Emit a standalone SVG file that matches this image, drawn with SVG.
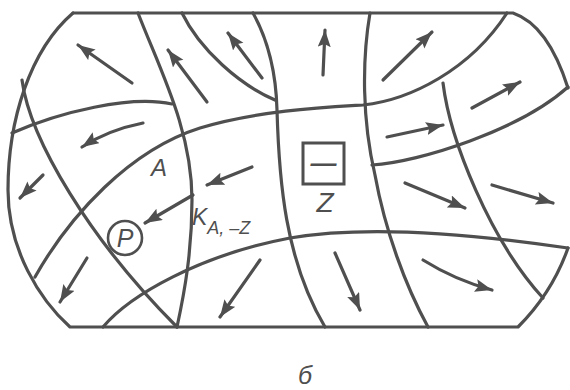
<svg xmlns="http://www.w3.org/2000/svg" width="570" height="390" viewBox="0 0 570 390">
<style>
.ln{fill:none;stroke:#4f4f4f;stroke-width:3.2;stroke-linecap:round;stroke-linejoin:round}
.ar{fill:none;stroke:#4f4f4f;stroke-width:3.2;stroke-linecap:round;marker-end:url(#ah)}
.t{fill:#4f4f4f;font-family:"Liberation Sans","DejaVu Sans",sans-serif;font-style:italic}
</style>
<defs>
<marker id="ah" markerUnits="userSpaceOnUse" markerWidth="18" markerHeight="14" refX="17" refY="6.5" orient="auto">
<path d="M0,0 L17,6.5 L0,13 L3,6.5 z" fill="#4f4f4f"/>
</marker>
</defs>
<rect width="570" height="390" fill="#fff"/>
<g id="outline">
<path class="ln" d="M73,13 L513,13 Q548,25 568,88"/>
<path class="ln" d="M73,13 C30,50 8,120 8,190 C8,250 40,300 70,327 L518,327 C535,310 555,285 568,248"/>
</g>
<g id="grid">
<path class="ln" d="M12,133 C60,112 130,95 172,104"/>
<path class="ln" d="M35,277 C70,215 130,150 200,128 C260,110 330,107 363,105 C410,100 470,70 507,13"/>
<path class="ln" d="M103,327 C130,295 200,255 290,238 C360,226 460,232 568,248"/>
<path class="ln" d="M372,165 C420,162 520,130 568,87"/>
<path class="ln" d="M22,80 C30,140 90,240 177,327"/>
<path class="ln" d="M138,13 C160,70 192,130 192,200 C192,250 185,290 177,327"/>
<path class="ln" d="M182,13 C200,50 240,85 275,100"/>
<path class="ln" d="M253,13 C268,40 276,70 277,110 C279,180 285,260 325,327"/>
<path class="ln" d="M370,13 C362,60 362,120 375,175 C385,230 405,285 428,327"/>
<path class="ln" d="M443,83 C450,140 490,240 543,298"/>
</g>
<g id="connectors">
<path class="ar" d="M132,83 L78,45"/>
<path class="ar" d="M207,102 L168,50"/>
<path class="ar" d="M262,78 L228,33"/>
<path class="ar" d="M143,123 Q108,130 82,147"/>
<path class="ar" d="M43,175 L20,198"/>
<path class="ar" d="M252,167 L207,185"/>
<path class="ar" d="M323,75 L325,30"/>
<path class="ar" d="M383,80 L432,32"/>
<path class="ar" d="M387,137 L443,125"/>
<path class="ar" d="M472,108 L520,82"/>
<path class="ar" d="M405,183 L465,208"/>
<path class="ar" d="M492,185 L553,203"/>
<path class="ar" d="M335,253 L360,310"/>
<path class="ar" d="M423,260 Q455,280 492,290"/>
<path class="ar" d="M193,195 L145,223"/>
<path class="ar" d="M87,258 L60,302"/>
<path class="ar" d="M260,260 L220,317"/>
</g>
<g id="label-A"><text class="t" x="151" y="176" font-size="24">A</text></g>
<g id="node-P">
<circle cx="125" cy="238" r="17" fill="none" stroke="#4f4f4f" stroke-width="2.6"/>
<text class="t" x="125" y="247" font-size="25" text-anchor="middle">P</text>
</g>
<g id="label-K">
<text class="t" x="192" y="225" font-size="23">K<tspan font-size="18" dy="9">A, –Z</tspan></text>
</g>
<g id="node-Z">
<rect x="303" y="143" width="41" height="41" fill="none" stroke="#4f4f4f" stroke-width="3"/>
<text class="t" x="323.5" y="172" font-size="26" font-style="normal" font-weight="bold" text-anchor="middle">—</text>
<text class="t" x="325" y="212" font-size="28" text-anchor="middle">Z</text>
</g>
<g id="caption"><text class="t" x="298" y="384" font-size="25">б</text></g>
</svg>
